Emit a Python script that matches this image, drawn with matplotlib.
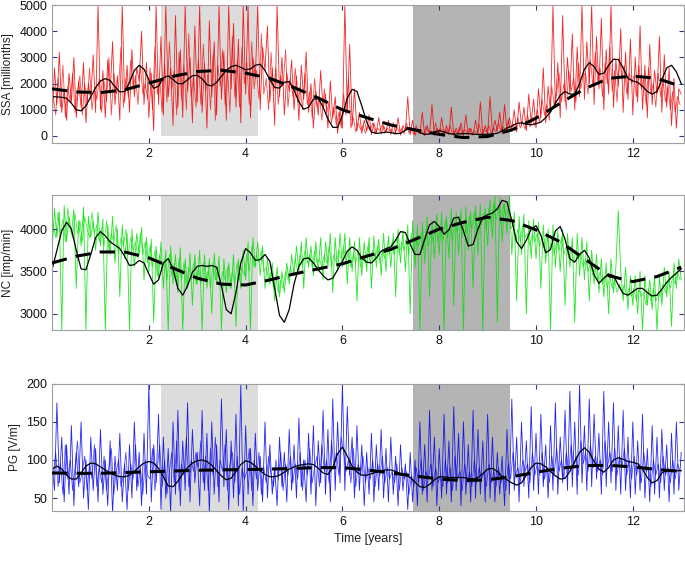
import matplotlib
matplotlib.use("Agg")
import matplotlib.pyplot as plt
import numpy as np

plt.rcParams['font.family'] = ['Liberation Sans', 'DejaVu Sans']

# noisy series, one value every 0.05 years (0 .. 13)
ssa_raw = [
    400, 2600, 1200, 3200, 900, 1800, 600, 2400, 1300, 3000, 700, 2100, 1100, 2800, 500, 2000, 1400, 3100, 900, 5000,
    1000, 2500, 700, 2900, 1600, 3600, 1200, 2300, 600, 5000, 1300, 2700, 900, 3300, 1500, 2600, 2100, 4000, 1200, 2800,
    700, 2400, 200, 5000, 1200, 3800, 800, 5000, 1500, 2600, 400, 4600, 1100, 3300, 700, 5000, 1700, 3000, 500, 4200,
    1300, 5000, 900, 2800, 300, 4400, 1500, 3600, 800, 5000, 1400, 3200, 600, 5000, 1800, 4300, 1100, 3700, 500, 5000,
    1600, 5000, 700, 3000, 2200, 5000, 1000, 3400, 2500, 4200, 1300, 2600, 400, 5000, 1500, 3000, 800, 2400, 1700, 2900,
    1000, 2300, 600, 2700, 1400, 3200, 900, 2000, 300, 1700, 800, 2500, 1000, 1600, 300, 2100, 700, 1500, 100, 1000,
    300, 5000, 900, 3500, 400, 1800, 200, 900, 100, 600, 200, 800, 50, 500, 100, 700, 80, 400, 150, 600,
    50, 500, 100, 700, 30, 400, 200, 1500, 50, 600, 20, 300, 80, 900, 10, 400, 60, 1200, 20, 300,
    80, 700, 10, 400, 50, 1100, 20, 300, 70, 500, 10, 800, 40, 300, 20, 600, 80, 1300, 30, 400,
    60, 1500, 100, 600, 200, 900, 80, 1200, 150, 700, 300, 1000, 150, 1300, 400, 1100, 200, 1600, 500, 1400,
    300, 1800, 700, 2600, 500, 1900, 900, 5000, 1100, 2800, 700, 4600, 1300, 3000, 1600, 3900, 1000, 3400, 1500, 5000,
    1400, 3600, 2000, 5000, 1200, 3800, 1800, 4500, 1000, 3300, 1600, 5000, 1100, 2900, 1900, 4100, 900, 3200, 1400, 3700,
    800, 3000, 1300, 4200, 1000, 2700, 700, 3500, 1200, 2500, 1600, 3800, 900, 3100, 1100, 2600, 400, 2200, 300, 1800,
    1600]

# second reading of the same records, half a step later (0.025 .. 12.975)
ssa_raw2 = [
    1500, 800, 2200, 1100, 2700, 700, 1900, 1300, 2400, 900, 1700, 2300, 800, 2000, 1200, 2600, 1000, 1800, 1400, 2200,
    900, 2100, 1300, 3000, 800, 2400, 1600, 1900, 3400, 1100, 2200, 1500, 2900, 1800, 2300, 1200, 2700, 1600, 2000, 1400,
    2600, 1000, 3400, 1600, 2200, 900, 2800, 1300, 3600, 1800, 2500, 800, 3200, 1400, 2700, 1000, 3900, 1500, 2300, 1100,
    2900, 1200, 3500, 1700, 2400, 1000, 3100, 600, 2700, 1900, 3300, 1200, 2600, 900, 3800, 1500, 2900, 1100, 3400, 2000,
    2800, 1200, 3600, 1800, 2500, 1400, 3900, 1600, 2200, 1000, 3200, 1700, 2600, 1200, 2300, 1900, 3300, 1100, 2200, 1500,
    2600, 1300, 1900, 1000, 2400, 1200, 1700, 700, 2200, 1100, 1500, 600, 1800, 900, 1300, 500, 1100, 400, 900, 300,
    1600, 800, 2200, 300, 700, 150, 500, 250, 400, 100, 350, 200, 500, 80, 300, 200, 450, 100, 300, 200,
    250, 60, 350, 150, 300, 80, 500, 100, 250, 60, 400, 100, 250, 50, 350, 150, 200, 80, 500, 100,
    300, 50, 250, 120, 400, 60, 200, 100, 350, 40, 250, 120, 300, 50, 200, 100, 450, 60, 250, 150,
    400, 100, 300, 150, 500, 200, 350, 120, 600, 250, 450, 200, 700, 300, 550, 250, 800, 350, 700, 400,
    1000, 500, 1400, 800, 1200, 600, 1900, 1200, 1600, 2400, 1300, 2000, 1000, 2500, 1700, 2200, 1300, 2800, 1800, 2300,
    2400, 1600, 2900, 1900, 3200, 2100, 2600, 1500, 2800, 2000, 3400, 1700, 2500, 1300, 3000, 2200, 2700, 1600, 2400, 2000,
    2300, 1500, 2700, 1800, 2200, 1200, 2600, 1600, 2000, 1100, 2400, 1500, 2100, 1300, 1900, 1000, 1700, 900, 1500, 1200]

nc_raw = [
    3700, 4250, 3900, 4200, 2800, 4280, 3850, 4150, 3950, 4230, 3300, 4100, 3800, 4260, 2800, 4150, 3900, 4100, 3750, 4200,
    3800, 4120, 2800, 4050, 3700, 4150, 3600, 4000, 3200, 4050, 3650, 3950, 2800, 4000, 3550, 3950, 3700, 4020, 3400, 3900,
    3500, 3880, 2900, 3800, 3400, 3850, 3300, 3750, 2800, 3800, 3350, 3700, 3250, 3780, 2800, 3650, 3300, 3720, 3100, 3700,
    3350, 3750, 2800, 3700, 3300, 3650, 3000, 3720, 3350, 3680, 2800, 3650, 3250, 3600, 3300, 3700, 2850, 3650, 3300, 3750,
    3400, 3850, 2800, 3900, 3550, 3850, 3450, 3800, 3300, 3650, 3350, 3600, 3150, 3550, 3200, 3500, 3250, 3600, 3350, 3700,
    3450, 3800, 3500, 3850, 3300, 3900, 3550, 3800, 3450, 3850, 3500, 3900, 3400, 3850, 3550, 3950, 3250, 3900, 3500, 3950,
    3550, 3950, 3350, 3900, 3500, 3850, 3150, 3900, 3450, 3850, 3500, 3900, 3300, 3920, 3550, 3880, 3450, 3950, 3500, 3920,
    3550, 3950, 3200, 4000, 3600, 3980, 3500, 4050, 3000, 4100, 3550, 4050, 2800, 4080, 3600, 4150, 3200, 4100, 3650, 4180,
    3700, 4200, 2800, 4150, 3650, 4250, 3100, 4200, 3700, 4230, 2800, 4260, 3750, 4200, 3300, 4280, 3700, 4300, 2800, 4250,
    3800, 4350, 3900, 4400, 2900, 4380, 3850, 4300, 3950, 4400, 3700, 4200, 3150, 4150, 3700, 4180, 3000, 4100, 3650, 4120,
    3650, 4080, 3300, 4050, 3600, 4000, 2800, 4050, 3550, 3980, 3500, 4000, 3100, 3950, 3550, 3900, 2900, 3950, 3450, 3900,
    3400, 3850, 3150, 3750, 3350, 3700, 3250, 3650, 3200, 3600, 3000, 3650, 3250, 3550, 4220, 3500, 3150, 3550, 3050, 3450,
    3100, 3450, 3000, 3500, 2800, 3450, 3100, 3400, 3050, 3450, 2800, 3450, 3100, 3550, 3200, 3500, 2850, 3600, 3300, 3650,
    3400]

nc_raw2 = [
    4050, 3900, 4200, 3950, 4120, 3850, 4250, 4000, 3900, 4180, 3950, 4100, 3850, 4150, 4000, 3900, 4200, 3950, 4050, 3850,
    4000, 3800, 4100, 3750, 3950, 3850, 4050, 3700, 3900, 3800, 4000, 3700, 3900, 3750, 3850, 3650, 3950, 3700, 3850, 3600,
    3800, 3550, 3750, 3450, 3700, 3500, 3650, 3400, 3700, 3450, 3600, 3350, 3650, 3400, 3600, 3300, 3550, 3400, 3600, 3350,
    3550, 3350, 3600, 3400, 3500, 3300, 3600, 3400, 3550, 3350, 3500, 3400, 3550, 3300, 3500, 3350, 3600, 3400, 3550, 3450,
    3700, 3500, 3800, 3550, 3700, 3600, 3750, 3500, 3550, 3400, 3500, 3300, 3450, 3250, 3400, 3300, 3500, 3400, 3550, 3450,
    3650, 3500, 3700, 3550, 3750, 3600, 3700, 3550, 3750, 3600, 3650, 3550, 3700, 3600, 3800, 3550, 3700, 3600, 3750, 3650,
    3800, 3600, 3750, 3550, 3700, 3600, 3750, 3550, 3700, 3600, 3800, 3600, 3750, 3650, 3800, 3600, 3750, 3650, 3800, 3700,
    3850, 3700, 3900, 3700, 3850, 3750, 3900, 3700, 3950, 3750, 3900, 3800, 3950, 3750, 4000, 3800, 3950, 3850, 4050, 3850,
    4000, 3850, 4100, 3900, 4050, 3850, 4100, 3950, 4150, 3900, 4100, 3950, 4150, 4000, 4200, 3950, 4150, 4050, 4200, 4000,
    4250, 4050, 4300, 4100, 4250, 4050, 4300, 4150, 4250, 4000, 4050, 3850, 4000, 3850, 4050, 3900, 3950, 3800, 3950, 3850,
    3950, 3800, 3900, 3750, 3950, 3750, 3900, 3700, 3850, 3750, 3900, 3700, 3800, 3650, 3800, 3600, 3750, 3650, 3700, 3550,
    3650, 3500, 3600, 3450, 3550, 3400, 3500, 3350, 3450, 3300, 3450, 3300, 3400, 3250, 3350, 3250, 3350, 3200, 3300, 3200,
    3300, 3150, 3300, 3200, 3250, 3100, 3300, 3150, 3300, 3150, 3250, 3200, 3350, 3250, 3400, 3300, 3450, 3350, 3500, 3400]

pg_raw = [
    95, 60, 175, 70, 130, 45, 120, 55, 145, 40, 110, 65, 150, 50, 100, 35, 130, 60, 115, 45,
    140, 55, 100, 40, 125, 30, 105, 60, 135, 45, 95, 35, 120, 50, 150, 60, 110, 40, 135, 55,
    200, 45, 120, 70, 160, 35, 130, 50, 115, 30, 150, 55, 165, 40, 125, 60, 175, 45, 140, 70,
    110, 40, 165, 60, 135, 30, 150, 55, 120, 45, 180, 65, 140, 35, 125, 50, 160, 40, 200, 30,
    145, 55, 115, 40, 135, 60, 105, 45, 150, 50, 120, 55, 90, 40, 130, 65, 110, 45, 140, 60,
    120, 50, 155, 65, 100, 45, 135, 55, 145, 40, 125, 70, 165, 55, 140, 45, 180, 60, 150, 70,
    200, 60, 170, 80, 130, 50, 145, 60, 120, 40, 110, 55, 135, 45, 120, 60, 140, 50, 115, 45,
    130, 55, 105, 40, 120, 60, 95, 35, 110, 45, 100, 40, 150, 55, 120, 45, 165, 60, 130, 40,
    115, 50, 160, 55, 125, 45, 170, 60, 135, 40, 150, 55, 120, 45, 165, 50, 140, 55, 125, 45,
    160, 50, 130, 45, 110, 55, 105, 40, 140, 55, 180, 60, 130, 45, 150, 65, 125, 50, 170, 60,
    135, 55, 160, 65, 120, 50, 145, 60, 175, 55, 130, 70, 165, 60, 190, 65, 150, 55, 200, 70,
    145, 60, 180, 65, 160, 75, 135, 55, 190, 65, 150, 70, 175, 60, 145, 55, 165, 60, 130, 50,
    150, 55, 125, 60, 160, 50, 115, 45, 145, 55, 130, 50, 140, 60, 120, 45, 135, 55, 150, 60,
    110]

pg_raw2 = [
    80, 110, 65, 95, 55, 120, 75, 100, 60, 90, 125, 70, 85, 105, 60, 95, 75, 120, 65, 90,
    70, 105, 60, 90, 115, 55, 85, 100, 65, 80, 110, 60, 95, 75, 120, 65, 90, 55, 100, 80,
    75, 115, 60, 90, 120, 65, 100, 55, 85, 110, 70, 125, 60, 95, 80, 130, 65, 100, 85, 110,
    90, 125, 70, 105, 60, 115, 80, 130, 65, 100, 85, 120, 60, 95, 110, 70, 105, 55, 90, 75,
    85, 115, 60, 100, 75, 110, 55, 90, 70, 105, 80, 65, 100, 75, 110, 60, 95, 80, 105, 70,
    95, 75, 110, 60, 100, 80, 115, 70, 90, 105, 65, 120, 85, 100, 70, 125, 90, 110, 80, 130,
    110, 85, 100, 70, 115, 65, 95, 80, 105, 70, 90, 75, 100, 65, 95, 80, 105, 70, 90, 75,
    85, 70, 95, 60, 90, 75, 85, 55, 80, 65, 90, 70, 100, 60, 85, 75, 95, 65, 90, 70,
    80, 65, 100, 70, 90, 60, 105, 75, 85, 60, 95, 70, 85, 65, 100, 70, 90, 75, 85, 65,
    95, 70, 85, 65, 90, 70, 80, 60, 95, 75, 110, 80, 90, 70, 100, 85, 95, 70, 110, 80,
    95, 80, 110, 75, 90, 70, 105, 80, 115, 85, 100, 75, 110, 85, 120, 90, 105, 80, 125, 95,
    110, 85, 120, 90, 105, 85, 100, 80, 125, 90, 110, 85, 115, 80, 105, 90, 115, 80, 100, 75,
    105, 80, 95, 70, 110, 85, 90, 65, 100, 80, 95, 70, 105, 80, 90, 70, 100, 75, 95, 85]

# smoothed curves, one value every 0.1 years
ssa_smooth = [1510, 1490, 1480, 1440, 1250, 1000, 960, 1150, 1500, 1850,
              2100, 2190, 2120, 1880, 1680, 1700, 2050, 2500, 2700, 2550,
              2150, 1820, 1900, 2220, 2300, 2150, 2000, 2000, 2150, 2300,
              2320, 2180, 1960, 1910, 2050, 2280, 2500, 2650, 2700, 2620,
              2530, 2560, 2700, 2740, 2500, 2150, 1850, 1830, 2050, 2080,
              1750, 1300, 1020, 1100, 1400, 1440, 1100, 650, 330, 330,
              800, 1450, 1780, 1700, 1150, 550, 150, 100, 120, 150,
              130, 90, 100, 220, 300, 260, 130, 60, 80, 160,
              200, 160, 90, 70, 80, 90, 90, 70, 60, 60,
              70, 80, 100, 200, 300, 380, 480, 500, 450, 430,
              470, 530, 700, 920, 1250, 1550, 1700, 1600, 1600, 2000,
              2550, 2800, 2650, 2350, 2400, 2700, 2930, 2920, 2600, 2200,
              2100, 2050, 1900, 1700, 1600, 1700, 2150, 2600, 2700, 2450,
              2000]

nc_smooth = [3520, 3750, 3980, 4080, 4000, 3750, 3530, 3520, 3700, 3900,
             3970, 3920, 3850, 3810, 3770, 3680, 3570, 3580, 3630, 3600,
             3470, 3350, 3400, 3600, 3650, 3530, 3300, 3220, 3330, 3490,
             3560, 3570, 3560, 3570, 3550, 3330, 3050, 3000, 3250, 3600,
             3770, 3720, 3630, 3640, 3700, 3620, 3300, 2980, 2900, 3050,
             3350, 3560, 3650, 3660, 3600, 3520, 3450, 3400, 3420, 3520,
             3620, 3740, 3790, 3750, 3660, 3610, 3600, 3660, 3740, 3770,
             3790, 3870, 3970, 3960, 3820, 3700, 3700, 3880, 4050, 4090,
             4030, 3940, 3990, 4130, 4140, 3980, 3800, 3820, 4000, 4140,
             4170, 4190, 4240, 4340, 4320, 4100, 3850, 3770, 3870, 4000,
             4040, 3930, 3720, 3760, 3980, 4030, 3880, 3650, 3610, 3700,
             3750, 3660, 3460, 3360, 3420, 3470, 3450, 3340, 3240, 3220,
             3260, 3300, 3300, 3250, 3210, 3220, 3290, 3370, 3430, 3480,
             3530]

pg_smooth = [88, 92, 88, 80, 75, 75, 83, 92, 96, 95,
             91, 87, 83, 80, 78, 78, 80, 85, 91, 96,
             98, 96, 89, 78, 66, 65, 72, 82, 90, 96,
             99, 100, 98, 93, 86, 79, 74, 76, 85, 94,
             99, 97, 92, 86, 81, 78, 78, 80, 84, 88,
             91, 93, 94, 95, 94, 89, 83, 81, 90, 108,
             117, 105, 92, 84, 80, 80, 82, 84, 86, 87,
             87, 85, 82, 80, 77, 71, 65, 64, 68, 74,
             78, 78, 77, 77, 77, 77, 76, 75, 77, 82,
             88, 89, 85, 78, 74, 70, 67, 70, 80, 90,
             96, 95, 91, 85, 79, 75, 76, 85, 98, 110,
             116, 110, 98, 88, 84, 90, 100, 103, 101, 98,
             97, 95, 88, 77, 70, 73, 83, 86, 86, 86,
             86]

# long-term trend, one value every 0.5 years
ssa_trend = [1800, 1680, 1660, 1760, 2020, 2280, 2460, 2510, 2400, 2200,
             1850, 1450, 1000, 700, 420, 230, 60, -60, -20, 230,
             680, 1250, 1800, 2200, 2290, 2200, 1890]
nc_trend = [3600, 3680, 3730, 3730, 3660, 3540, 3420, 3350, 3340, 3400,
            3470, 3530, 3590, 3680, 3760, 3880, 4000, 4080, 4140, 4100,
            3990, 3850, 3650, 3450, 3380, 3440, 3550]
pg_trend = [83, 82.5, 82.5, 83.5, 84.5, 85.5, 86.5, 87, 87.5, 88,
            89, 90, 90, 87, 83, 79, 75, 73, 74, 78,
            84, 89, 92.5, 93, 91, 87.5, 85]

light_span = (2.25, 4.25)
dark_span = (7.46, 9.46)

t_raw = np.arange(len(ssa_raw)) * 0.05
t_raw2 = 0.025 + np.arange(len(ssa_raw2)) * 0.05
t_smooth = np.arange(len(ssa_smooth)) * 0.1
t_trend = np.arange(len(ssa_trend)) * 0.5

panels = [
    (ssa_raw, ssa_raw2, ssa_smooth, ssa_trend, '#f00000', 'SSA [millionths]', (-270, 5000), [0, 1000, 2000, 3000, 4000, 5000]),
    (nc_raw, nc_raw2, nc_smooth, nc_trend, '#00e000', 'NC [imp/min]', (2810, 4400), [3000, 3500, 4000]),
    (pg_raw, pg_raw2, pg_smooth, pg_trend, '#0000f0', 'PG [V/m]', (33, 200), [50, 100, 150, 200]),
]
boxes = [(0.076, 0.745, 0.922, 0.246), (0.076, 0.412, 0.922, 0.240), (0.076, 0.089, 0.922, 0.227)]

fig = plt.figure(figsize=(6.85, 5.61), dpi=100)
for i, (raw, raw2, smooth, trend, col, lab, ylim, yt) in enumerate(panels):
    ax = fig.add_axes(boxes[i])
    if i == 0:
        ax.fill_between(light_span, 0, 5000, color='#dcdcdc', lw=0, zorder=0)
    else:
        ax.axvspan(*light_span, color='#dcdcdc', lw=0, zorder=0)
    ax.axvspan(*dark_span, color='#b4b4b4', lw=0, zorder=0)
    ax.plot(t_raw2, raw2, color=col, lw=0.6, alpha=0.7, zorder=1)
    ax.plot(t_raw, raw, color=col, lw=0.6, alpha=0.85, zorder=1)
    ax.plot(t_smooth, smooth, color='black', lw=0.9, zorder=2)
    ax.plot(t_trend, trend, color='black', lw=2.2, dashes=(5, 3), zorder=3)
    ax.set_xlim(0, 13.05)
    ax.set_ylim(*ylim)
    ax.set_xticks([2, 4, 6, 8, 10, 12])
    ax.set_yticks(yt)
    ax.set_ylabel(lab, fontsize=8.5, color='#222222')
    ax.tick_params(direction='in', top=True, right=True, length=3.5, labelsize=9,
                   color='#2a3a7a', labelcolor='#111111')
    for s in ax.spines.values():
        s.set_color('#a0a0a0')
        s.set_linewidth(0.8)
    if i == 2:
        ax.set_xlabel('Time [years]', fontsize=9, color='#222222')

fig.savefig('out.png', dpi=100)
